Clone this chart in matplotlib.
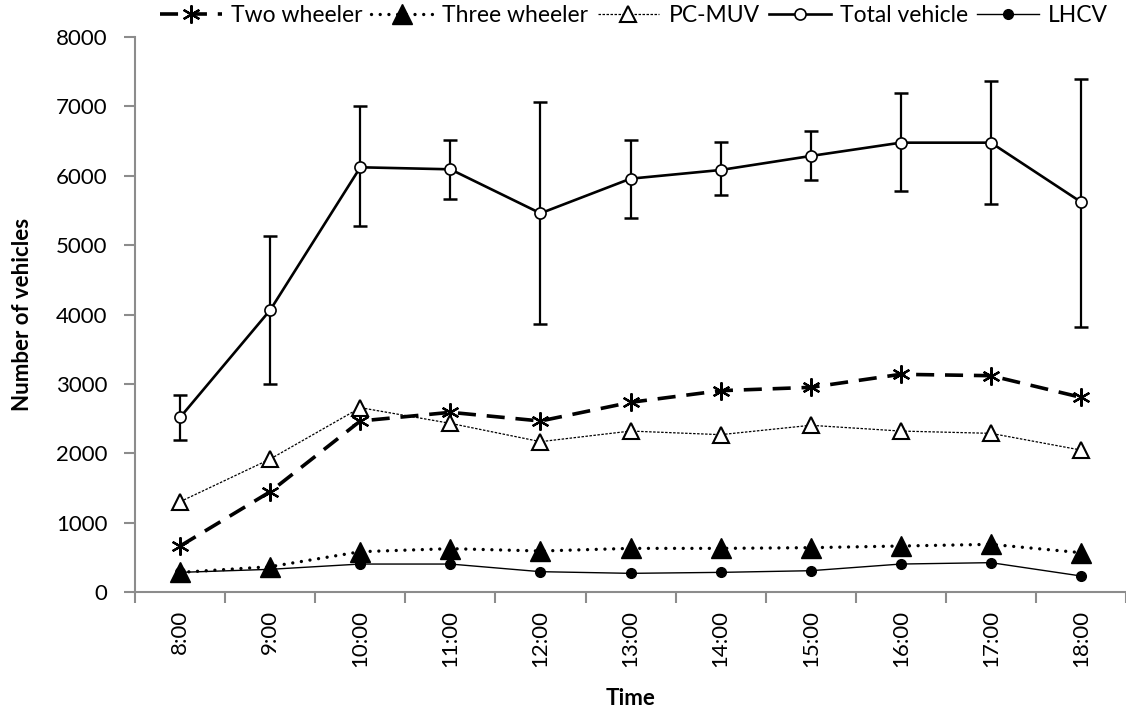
import numpy as np
import matplotlib.pyplot as plt

plt.rcParams['font.family'] = ['Lato', 'DejaVu Sans']

# Hourly vehicle counts
times = ['8:00', '9:00', '10:00', '11:00', '12:00', '13:00',
         '14:00', '15:00', '16:00', '17:00', '18:00']
two_wheeler = [663, 1446, 2465, 2590, 2465, 2734, 2902, 2950, 3138, 3118, 2806]
three_wheeler = [283, 365, 581, 625, 591, 629, 629, 639, 663, 687, 567]
pc_muv = [1302, 1917, 2657, 2431, 2167, 2320, 2268, 2403, 2320, 2287, 2046]
total_vehicle = [2518, 4065, 6122, 6093, 5459, 5958, 6083, 6285, 6477, 6477, 5622]
total_upper = [2840, 5131, 7005, 6511, 7068, 6511, 6482, 6641, 7198, 7371, 7400]
total_lower = [2191, 2995, 5276, 5665, 3868, 5391, 5718, 5939, 5775, 5588, 3825]
lhcv = [283, 327, 403, 403, 293, 269, 283, 307, 403, 423, 231]

x = np.arange(len(times))
total = np.array(total_vehicle)
yerr = [total - np.array(total_lower), np.array(total_upper) - total]

fig = plt.figure(figsize=(11.26, 7.13), dpi=100)
ax = fig.add_axes([0.12, 0.1697, 0.88, 0.7784])

h_two, = ax.plot(x, two_wheeler, color='black', lw=2.6, ls=(0, (5, 3)),
                 marker=(6, 2, 0), ms=13, mew=1.6, zorder=4)
h_three, = ax.plot(x, three_wheeler, color='black', lw=2.4, ls=(0, (0.01, 2.6)),
                   dash_capstyle='round', marker='^', ms=14, mfc='black', zorder=4)
h_pc, = ax.plot(x, pc_muv, color='black', lw=0.9, ls=(0, (2, 1.2)),
                marker='^', ms=12, mfc='white', mew=1.5, zorder=4)
ax.errorbar(x, total_vehicle, yerr=yerr, fmt='none', ecolor='black',
            elinewidth=1.6, capsize=5, capthick=1.8, zorder=3)
h_total, = ax.plot(x, total_vehicle, color='black', lw=1.9, marker='o',
                   ms=8, mfc='white', mew=1.2, zorder=3)
h_lhcv, = ax.plot(x, lhcv, color='black', lw=1.0, marker='o', ms=7,
                  mfc='black', zorder=4)

ax.set_ylim(0, 8000)
ax.set_yticks(np.arange(0, 8001, 1000))
ax.set_xlim(-0.5, 10.41)

# category labels in the middle, tick marks on the boundaries
ax.set_xticks(np.arange(-0.5, 10.6, 1.0))
ax.set_xticklabels([])
ax.set_xticks(x, minor=True)
ax.set_xticklabels(times, minor=True, rotation=90, fontsize=16)
ax.tick_params(axis='x', which='minor', length=0, pad=13)
ax.tick_params(axis='x', which='major', length=8, width=1.5, color='#8c8c8c')
ax.tick_params(axis='y', length=8, width=1.5, color='#8c8c8c', labelsize=16,
               pad=12)

for side in ['top', 'right']:
    ax.spines[side].set_visible(False)
for side in ['left', 'bottom']:
    ax.spines[side].set_color('#8c8c8c')
    ax.spines[side].set_linewidth(1.5)

ax.set_ylabel('Number of vehicles', fontsize=16, fontweight='bold', labelpad=16)
ax.set_xlabel('Time', fontsize=16, fontweight='bold', labelpad=15)

handles = [h_two, h_three, h_pc, h_total, h_lhcv]
labels = ['Two wheeler', 'Three wheeler', 'PC-MUV', 'Total vehicle', 'LHCV']
fig.legend(handles, labels, loc='center', bbox_to_anchor=(0.563, 0.978),
           ncol=5, frameon=False, fontsize=16.5, numpoints=1,
           handlelength=2.7, handletextpad=0.4, columnspacing=0.4,
           borderaxespad=0)

fig.savefig('out.png', dpi=100)
